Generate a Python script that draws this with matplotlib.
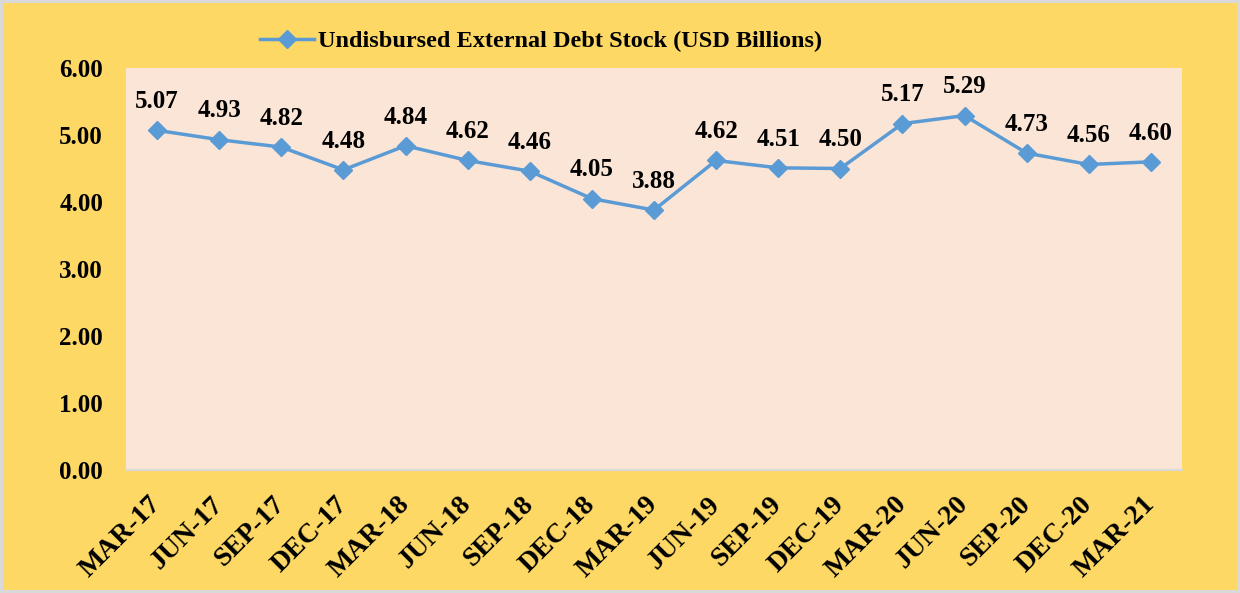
import numpy as np
import matplotlib.pyplot as plt

quarters = ["MAR-17", "JUN-17", "SEP-17", "DEC-17", "MAR-18", "JUN-18", "SEP-18",
            "DEC-18", "MAR-19", "JUN-19", "SEP-19", "DEC-19", "MAR-20", "JUN-20",
            "SEP-20", "DEC-20", "MAR-21"]
debt = [5.07, 4.93, 4.82, 4.48, 4.84, 4.62, 4.46, 4.05, 3.88, 4.62, 4.51, 4.50,
        5.17, 5.29, 4.73, 4.56, 4.60]
yticks = [0, 1, 2, 3, 4, 5, 6]

plt.rcParams['font.family'] = ['Liberation Serif', 'DejaVu Serif']
plt.rcParams['font.weight'] = 'bold'

fig = plt.figure(figsize=(12.4, 5.93), dpi=100)
fig.patch.set_facecolor('#FDD865')
fig.patch.set_edgecolor('#D9D9D9')
fig.patch.set_linewidth(4)

ax = fig.add_axes([0.1016, 0.2074, 0.8516, 0.6779])
ax.set_facecolor('#FBE5D6')

x = np.arange(len(quarters))
ax.plot(x, debt, color='#5B9BD5', lw=2.5, marker='D', ms=9,
        label='Undisbursed External Debt Stock (USD Billions)')

for xi, v in zip(x, debt):
    ax.annotate(f"{v:.2f}", (xi, v), xytext=(0, 16), textcoords='offset points',
                ha='center', va='baseline', fontsize=18, fontweight='bold')

ax.set_xlim(-0.5, len(quarters) - 0.5)
ax.set_ylim(0, 6)
ax.set_yticks(yticks)
ax.set_yticklabels([f"{t:.2f}" for t in yticks], fontsize=18, fontweight='bold')
ax.set_xticks(x)
ax.set_xticklabels(quarters, rotation=45, ha='right', va='center',
                   rotation_mode='anchor', fontsize=20, fontweight='bold')
ax.tick_params(axis='both', length=0)
ax.tick_params(axis='y', pad=16.5)
ax.tick_params(axis='x', pad=22)

for s in ['top', 'right', 'left']:
    ax.spines[s].set_visible(False)
ax.spines['bottom'].set_color('#D9D9D9')
ax.spines['bottom'].set_linewidth(1.5)

leg = fig.legend(loc='center', bbox_to_anchor=(0.4365, 0.93), frameon=False,
                 prop={'size': 17.5, 'weight': 'bold'}, handlelength=2.2,
                 handletextpad=0.2)

plt.savefig("out.png", dpi=100, facecolor=fig.get_facecolor(),
            edgecolor=fig.get_edgecolor())
